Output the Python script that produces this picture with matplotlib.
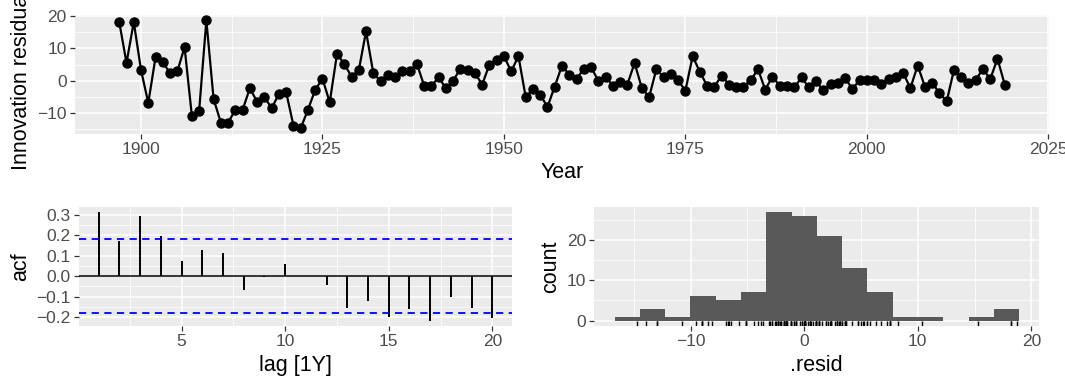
import numpy as np
import matplotlib
matplotlib.use("Agg")
import matplotlib.pyplot as plt

plt.rcParams["font.family"] = ["Liberation Sans", "DejaVu Sans"]
plt.rcParams["axes.unicode_minus"] = True

# innovation residuals, one per year 1897-2019
years = list(range(1897, 2020))
resid = [
    18.2, 5.5, 18.2, 3.3, -6.9, 7.3, 5.8, 2.3, 2.9, 10.4,
    -10.8, -9.5, 18.7, -5.7, -13.0, -13.0, -9.0, -9.0, -2.3, -6.6,
    -5.1, -8.5, -4.1, -3.6, -13.9, -14.7, -9.0, -2.8, 0.6, -6.7,
    8.3, 5.2, 1.3, 3.2, 15.3, 2.4, -0.2, 1.9, 1.3, 3.1,
    2.9, 5.3, -1.5, -1.6, 1.0, -2.3, 0.0, 3.7, 3.2, 2.4,
    -1.2, 5.0, 6.3, 7.6, 2.9, 7.6, -5.1, -2.6, -4.4, -8.1,
    -1.8, 4.7, 1.9, 0.5, 3.7, 4.2, 0.0, 1.3, -1.5, -0.4,
    -1.2, 5.5, -2.3, -5.1, 3.6, 1.05, 2.1, 0.1, -3.1, 7.6,
    2.7, -1.6, -1.8, 1.6, -1.2, -2.0, -1.8, 0.1, 3.6, -2.8,
    1.3, -1.6, -1.6, -2.1, 1.0, -2.0, -0.2, -3.0, -0.9, -0.7,
    0.8, -2.5, 0.1, 0.1, 0.1, -0.9, 0.5, 1.0, 2.4, -2.3,
    4.7, -1.8, -0.7, -3.8, -6.4, 3.3, 1.05, -0.7, 0.3, 3.6,
    0.5, 6.8, -1.2,
]

# autocorrelation of the residuals, lags 1-20
lags = list(range(1, 21))
acf = [0.313, 0.173, 0.292, 0.198, 0.074, 0.130, 0.114, -0.069, -0.002, 0.061,
       0.002, -0.044, -0.156, -0.122, -0.201, -0.160, -0.217, -0.102, -0.156, -0.206]

BG = "#EBEBEB"
TICKCOL = "#4D4D4D"
TITLE_SIZE = 15.5
TICK_SIZE = 12.5


def expand(lo, hi, frac=0.05):
    d = (hi - lo) * frac
    return lo - d, hi + d


def gg_style(ax, xmaj, xmin, ymaj, ymin):
    ax.set_facecolor(BG)
    for s in ax.spines.values():
        s.set_visible(False)
    ax.set_xticks(xmaj)
    ax.set_xticks(xmin, minor=True)
    ax.set_yticks(ymaj)
    ax.set_yticks(ymin, minor=True)
    ax.grid(which="major", color="white", lw=1.1)
    ax.grid(which="minor", color="white", lw=0.55)
    ax.set_axisbelow(True)
    ax.tick_params(which="major", length=3.5, width=0.9, color="#333333",
                   labelcolor=TICKCOL, labelsize=TICK_SIZE, pad=2.5)
    ax.tick_params(which="minor", length=0)


fig = plt.figure(figsize=(10.65, 3.78), dpi=100)

# time plot of residuals
ax1 = fig.add_axes([0.0704, 0.6468, 0.9146, 0.3135])
ax1.plot(years, resid, color="black", lw=1.6, marker="o", ms=6.5, zorder=3)
ax1.set_xlim(*expand(min(years), max(years)))
ax1.set_ylim(*expand(min(resid), max(resid)))
gg_style(ax1, [1900, 1925, 1950, 1975, 2000, 2025],
         [1912.5, 1937.5, 1962.5, 1987.5, 2012.5],
         [-10, 0, 10, 20], [-15, -5, 5, 15])
ax1.set_yticklabels(["\u221210", "0", "10", "20"])
ax1.set_xlabel("Year", fontsize=TITLE_SIZE, labelpad=4)
ax1.set_ylabel("Innovation residuals", fontsize=TITLE_SIZE, labelpad=4)

# ACF of residuals
n = len(resid)
ci = 2 / np.sqrt(n)
ax2 = fig.add_axes([0.0742, 0.1376, 0.4066, 0.3156])
ax2.vlines(lags, 0, acf, color="black", lw=1.4, zorder=3)
ax2.axhline(0, color="black", lw=1.1, zorder=3)
for c in (ci, -ci):
    ax2.axhline(c, color="#0000FF", lw=1.3, ls=(0, (4, 3)), zorder=3)
ax2.set_xlim(*expand(min(lags), max(lags)))
ax2.set_ylim(*expand(min(acf + [-ci]), max(acf + [ci])))
gg_style(ax2, [5, 10, 15, 20], [2.5, 7.5, 12.5, 17.5],
         [-0.2, -0.1, 0.0, 0.1, 0.2, 0.3],
         [-0.15, -0.05, 0.05, 0.15, 0.25])
ax2.set_yticklabels(["\u22120.2", "\u22120.1", "0.0", "0.1", "0.2", "0.3"])
ax2.set_xlabel("lag [1Y]", fontsize=TITLE_SIZE, labelpad=4)
ax2.set_ylabel("acf", fontsize=TITLE_SIZE, labelpad=4)

# histogram of residuals with rug, bins placed the ggplot way
nbins = 16
r = np.array(resid)
width = (r.max() - r.min()) / (nbins - 1)
boundary = width / 2
start = boundary + np.floor((r.min() - boundary) / width) * width
nb = int(np.ceil((r.max() - start) / width - 1e-9))
edges = start + width * np.arange(nb + 1)

ax3 = fig.add_axes([0.5580, 0.1376, 0.4179, 0.3156])
counts, _, _ = ax3.hist(r, bins=edges, color="#595959", zorder=2)
ax3.vlines(r, 0, 0.04, transform=ax3.get_xaxis_transform(),
           color="black", lw=1.0, zorder=3)
ax3.set_xlim(*expand(edges[0], edges[-1]))
ax3.set_ylim(*expand(0, counts.max()))
gg_style(ax3, [-10, 0, 10, 20], [-15, -5, 5, 15], [0, 10, 20], [5, 15, 25])
ax3.set_xticklabels(["\u221210", "0", "10", "20"])
ax3.set_xlabel(".resid", fontsize=TITLE_SIZE, labelpad=4)
ax3.set_ylabel("count", fontsize=TITLE_SIZE, labelpad=4)

fig.savefig("out.png", dpi=100, facecolor="white")
